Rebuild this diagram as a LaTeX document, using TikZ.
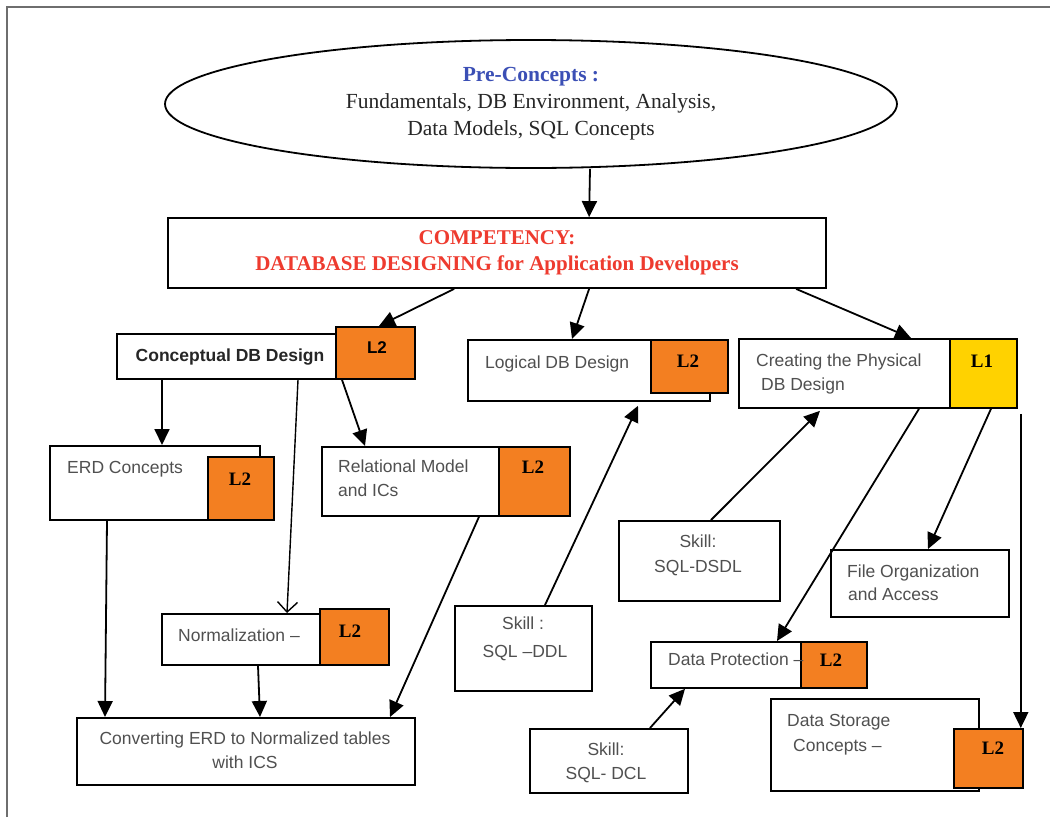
\documentclass[tikz,border=0pt]{standalone}
\usepackage{fontspec}
\setmainfont{Liberation Serif}
\newfontfamily\arial{Liberation Sans}
\newfontfamily\tms{Liberation Serif}
\usetikzlibrary{arrows.meta,shapes.geometric}
\definecolor{lvorange}{HTML}{F37F21}
\definecolor{lvyellow}{HTML}{FFD200}
\definecolor{preblue}{HTML}{3B4FB5}
\definecolor{compred}{HTML}{EE3B2F}
\definecolor{framegray}{HTML}{6E6E6E}
\definecolor{txtgray}{HTML}{505050}
\tikzset{
  box/.style={draw, line width=1.8pt, fill=white, inner sep=0pt, anchor=north west},
  lvbox/.style={box, fill=lvorange},
  lvtext/.style={font=\tms\bfseries\fontsize{19}{22}\selectfont, anchor=base, inner sep=0pt, text=black},
  stxt/.style={font=\arial\fontsize{17.5}{21}\selectfont, anchor=base west, inner sep=0pt, text=txtgray},
  ctxt/.style={stxt, anchor=base},
  arr/.style={line width=1.8pt, -{Triangle[length=16pt,width=15pt]}},
  openarr/.style={line width=1.4pt, -{Straight Barb[length=10pt,width=20pt,line width=1.4pt]}}
}
\begin{document}
\begin{tikzpicture}[x=1pt,y=-1pt]
\useasboundingbox (0,0) rectangle (1050,817);
\draw[framegray, line width=2pt] (7,817) -- (7,7) -- (1050,7);

% top ellipse
\node[ellipse, draw, line width=1.8pt, minimum width=732pt, minimum height=128pt, inner sep=0pt,
      align=center, font=\tms\fontsize{21.5}{27}\selectfont, text=black!85] (pre) at (531,104)
  {{\color{preblue}\bfseries Pre-Concepts :}\\Fundamentals, DB Environment, Analysis,\\Data Models, SQL Concepts};

% competency
\node[box, minimum width=658pt, minimum height=70pt, align=center,
      font=\tms\bfseries\fontsize{21}{26}\selectfont, text=compred, anchor=center] (comp) at (497,253)
  {COMPETENCY:\\DATABASE DESIGNING for Application Developers};

% conceptual
\node[box, minimum width=220pt, minimum height=45pt] (cdb) at (116,333) {};
\node[lvbox, minimum width=79pt, minimum height=52pt] (cl2) at (335,326) {};
\node[font=\arial\bfseries\fontsize{17.5}{21}\selectfont, anchor=base, inner sep=0pt, text=black!85] (cdbt) at (230,361) {Conceptual DB Design};
\node[font=\arial\bfseries\fontsize{17}{21}\selectfont, anchor=base, inner sep=0pt] (cl2t) at (377,353) {L2};

% logical
\node[box, minimum width=242pt, minimum height=61pt] (ldb) at (467,339) {};
\node[lvbox, minimum width=77pt, minimum height=53pt] (ll2) at (650,339) {};
\node[stxt] (ldbt) at (485,368) {Logical DB Design};
\node[lvtext] (ll2t) at (688,367) {L2};

% physical
\node[box, minimum width=211pt, minimum height=69pt] (pdb) at (738,338) {};
\node[box, fill=lvyellow, minimum width=67pt, minimum height=69pt] (pl1) at (949,338) {};
\node[stxt] (pdbt1) at (756,366) {Creating the Physical};
\node[stxt] (pdbt2) at (761,390) {DB Design};
\node[lvtext] (pl1t) at (982,367) {L1};

% ERD
\node[box, minimum width=210pt, minimum height=74pt] (erd) at (49,445) {};
\node[lvbox, minimum width=66pt, minimum height=63pt] (erl2) at (207,456) {};
\node[stxt] (erdt) at (67,473) {ERD Concepts};
\node[lvtext] (erl2t) at (240,485) {L2};

% relational
\node[box, minimum width=177pt, minimum height=69pt] (rel) at (321,446) {};
\node[lvbox, minimum width=71pt, minimum height=69pt] (rell2) at (498,446) {};
\node[stxt] (relt1) at (338,472) {Relational Model};
\node[stxt] (relt2) at (338,496) {and ICs};
\node[lvtext] (rell2t) at (533,473) {L2};

% normalization
\node[box, minimum width=159pt, minimum height=51pt] (norm) at (161,613) {};
\node[lvbox, minimum width=69pt, minimum height=56pt] (norml2) at (319,608) {};
\node[stxt] (normt) at (178,641) {Normalization \textendash};
\node[lvtext] (norml2t) at (350,637) {L2};

% converting
\node[box, minimum width=338pt, minimum height=67pt] (conv) at (76,717) {};
\node[ctxt] (convt1) at (245,744) {Converting ERD to Normalized tables};
\node[ctxt] (convt2) at (245,768) {with ICS};

% skill DDL
\node[box, minimum width=137pt, minimum height=85pt] (ddl) at (454,605) {};
\node[ctxt] (ddlt1) at (523,629) {Skill :};
\node[ctxt] (ddlt2) at (525,657) {SQL \textendash DDL};

% skill DSDL
\node[box, minimum width=161pt, minimum height=80pt] (dsdl) at (618,520) {};
\node[ctxt] (dsdlt1) at (698,547) {Skill:};
\node[ctxt] (dsdlt2) at (698,572) {SQL-DSDL};

% file organization
\node[box, minimum width=178pt, minimum height=67pt] (file) at (830,549) {};
\node[stxt] (filet1) at (847,577) {File Organization};
\node[stxt] (filet2) at (848,600) {and Access};

% data protection
\node[box, minimum width=150pt, minimum height=46pt] (dp) at (650,641) {};
\node[lvbox, minimum width=66pt, minimum height=46pt] (dpl2) at (800,641) {};
\node[stxt] (dpt) at (668,665) {Data Protection \textendash};
\node[lvtext] (dpl2t) at (831,666) {L2};

% skill DCL
\node[box, minimum width=158pt, minimum height=64pt] (dcl) at (529,728) {};
\node[ctxt] (dclt1) at (606,755) {Skill:};
\node[ctxt] (dclt2) at (606,779) {SQL- DCL};

% data storage
\node[box, minimum width=208pt, minimum height=92pt] (ds) at (770,698) {};
\node[lvbox, minimum width=69pt, minimum height=59pt] (dsl2) at (953,728) {};
\node[stxt] (dst1) at (787,726) {Data Storage};
\node[stxt] (dst2) at (793,751) {Concepts \textendash};
\node[lvtext] (dsl2t) at (993,754) {L2};

% connectors
\draw[arr] ([xshift=59pt]pre.south) -- ([xshift=422pt]comp.north west);
\draw[arr] ([xshift=287pt]comp.south west) -- ([xshift=44pt]cl2.north west);
\draw[arr] ([xshift=422pt]comp.south west) -- ([xshift=105pt]ldb.north west);
\draw[arr] ([xshift=629pt]comp.south west) -- ([xshift=173pt]pdb.north west);
\draw[arr] ([xshift=46pt]cdb.south west) -- ([xshift=113pt]erd.north west);
\draw[arr] ([xshift=7pt]cl2.south west) -- ([xshift=44pt]rel.north west);
\draw[openarr] ([xshift=182pt]cdb.south west) -- ([xshift=126pt]norm.north west);
\draw[arr] ([xshift=58pt]erd.south west) -- ([xshift=29pt]conv.north west);
\draw[arr] ([xshift=97pt]norm.south west) -- ([xshift=184pt]conv.north west);
\draw[arr] ([xshift=158pt]rel.south west) -- ([xshift=314pt]conv.north west);
\draw[arr] ([xshift=91pt]ddl.north west) -- ([xshift=171pt,yshift=-4pt]ldb.south west);
\draw[arr] ([xshift=93pt]dsdl.north west) -- ([xshift=82pt,yshift=-2pt]pdb.south west);
\draw[arr] ([xshift=181pt]pdb.south west) -- ([xshift=127pt]dp.north west);
\draw[arr] ([xshift=42pt]pl1.south west) -- ([xshift=98pt]file.north west);
\draw[arr] ([xshift=3pt,yshift=-5pt]pl1.south east) -- ([xshift=-3pt]dsl2.north east);
\draw[arr] ([xshift=121pt]dcl.north west) -- ([xshift=35pt]dp.south west);
\end{tikzpicture}
\end{document}
